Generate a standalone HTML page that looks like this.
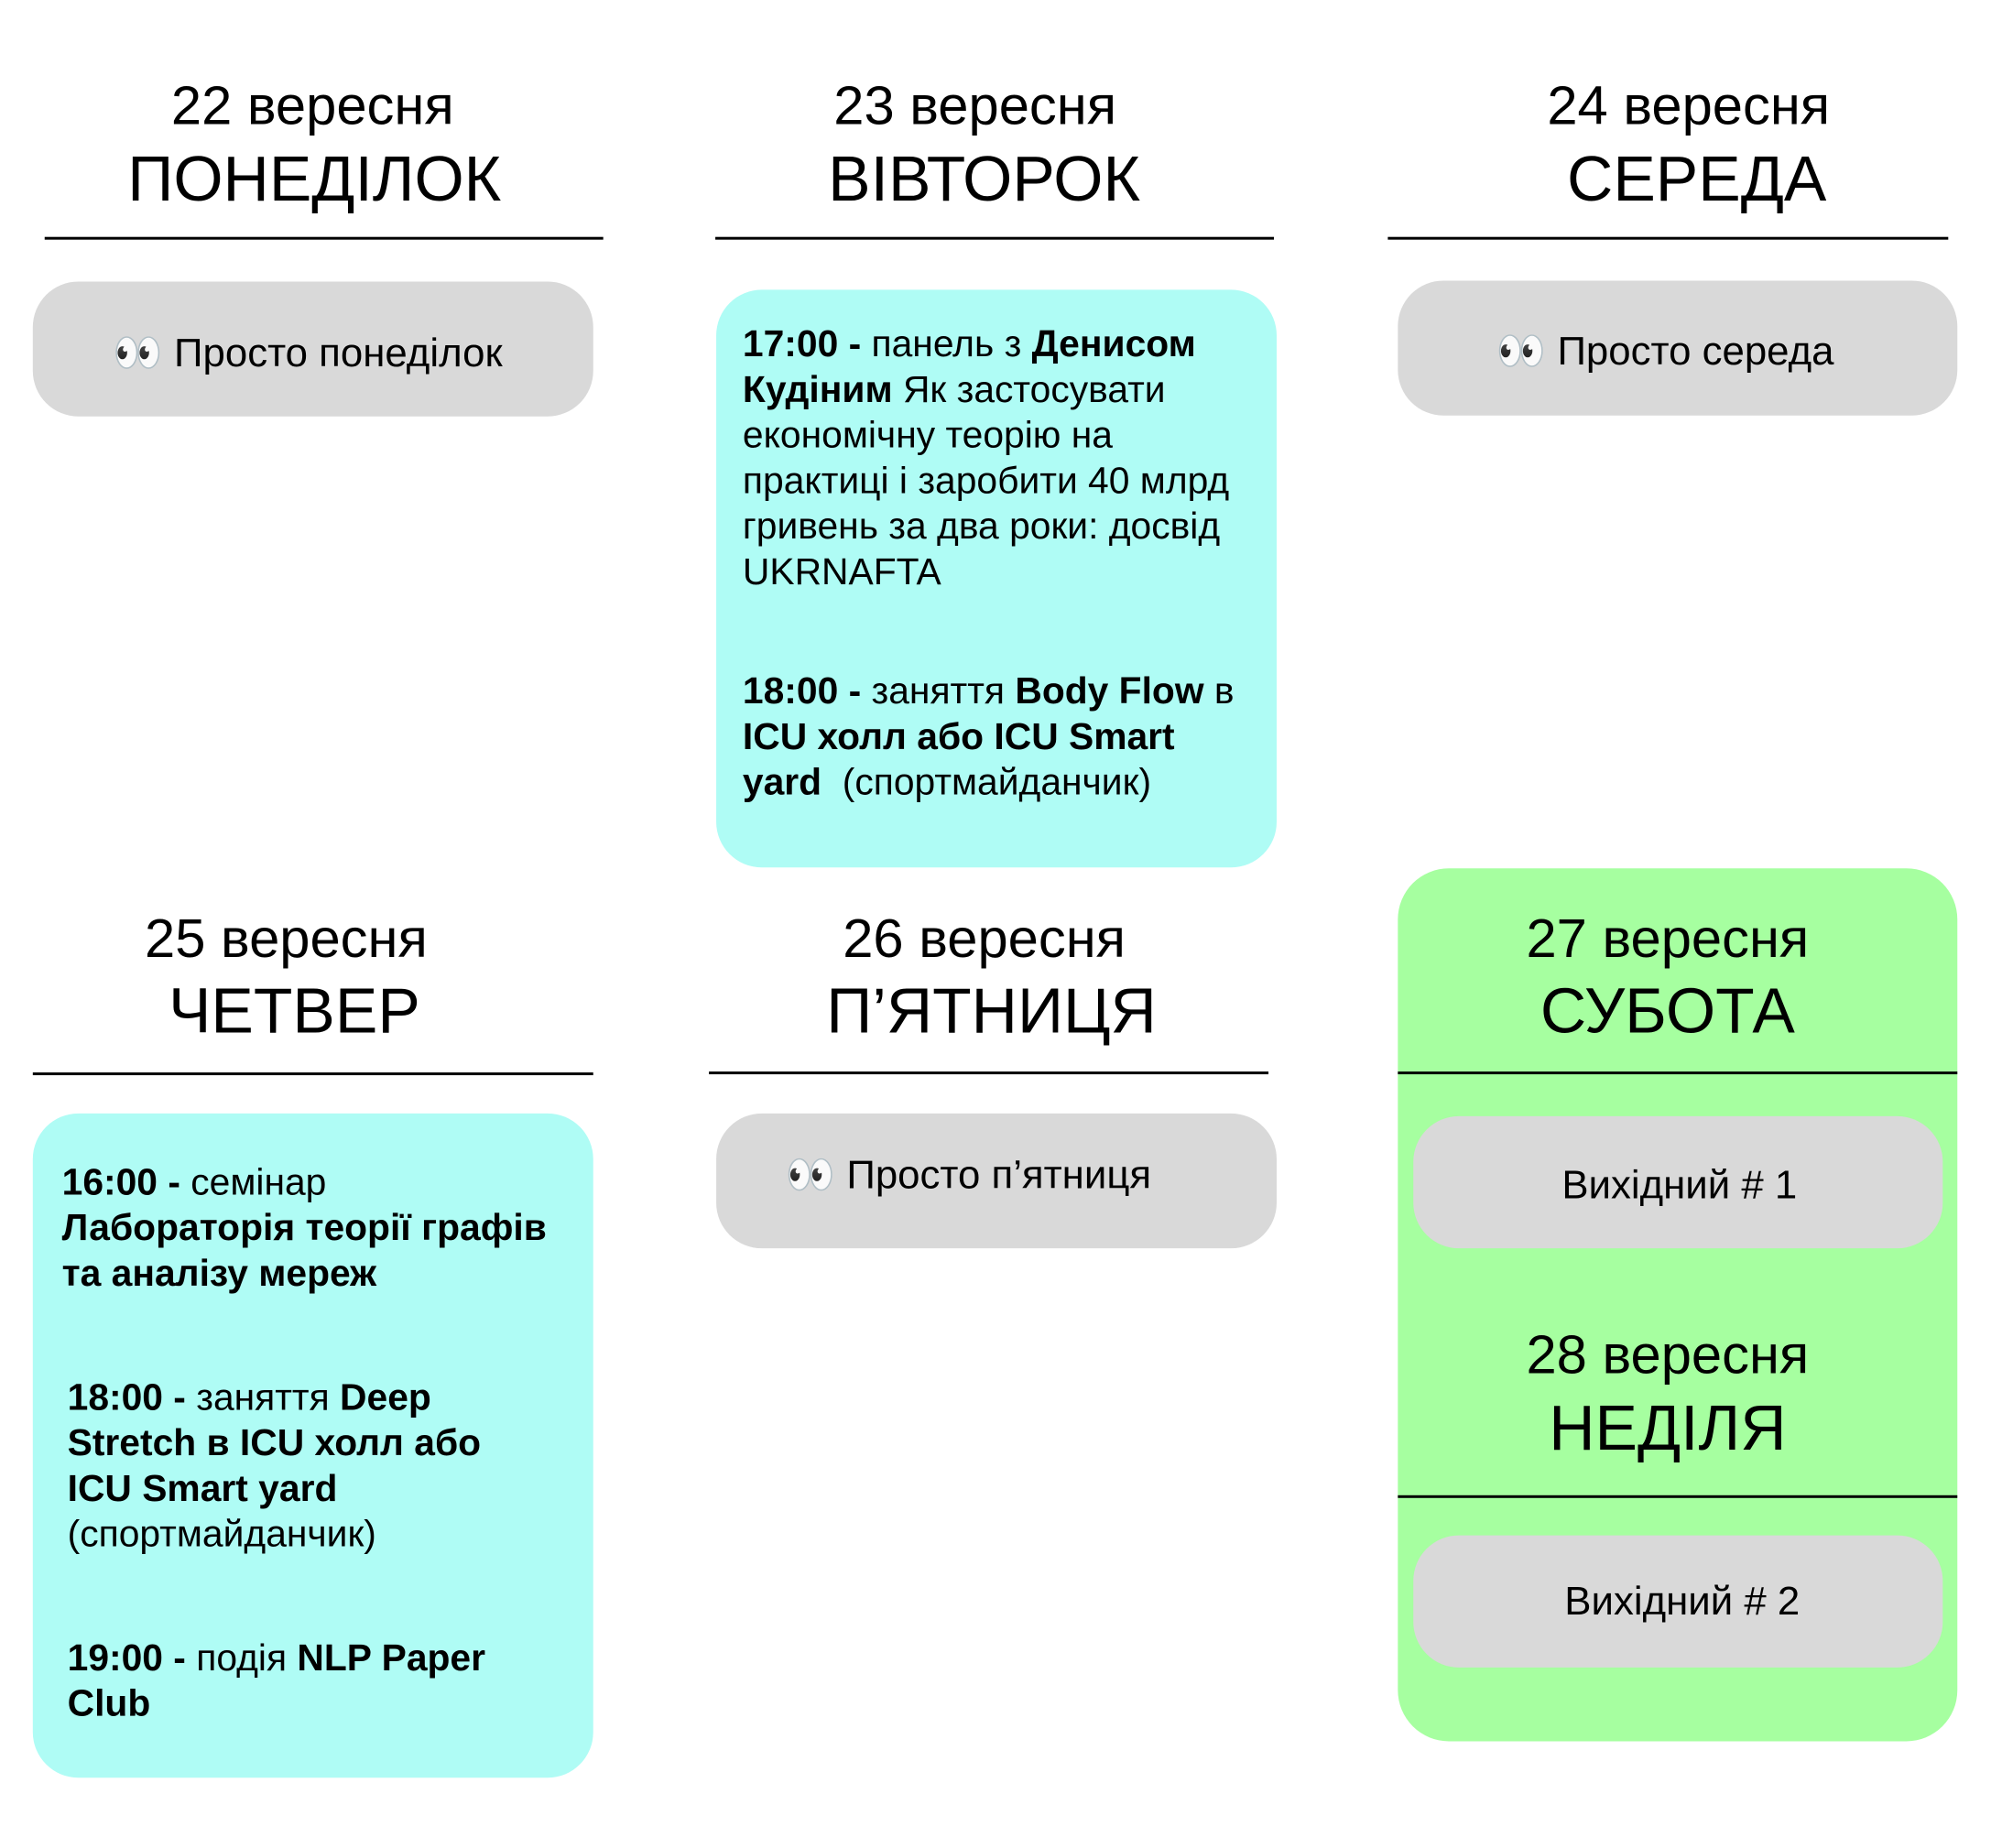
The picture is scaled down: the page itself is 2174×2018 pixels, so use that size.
<!DOCTYPE html>
<html><head><meta charset="utf-8"><style>
body{margin:0;width:2174px;height:2018px;background:#fff;position:relative;overflow:hidden;font-family:"Liberation Sans","DejaVu Sans",sans-serif;color:#000}
#w{position:absolute;left:0;top:0;width:2174px;height:2018px;transform:scale(0.995);transform-origin:0 0}
.a{position:absolute}
.t{position:absolute;white-space:nowrap;line-height:1}
.c{transform:translateX(-50%)}
.line{position:absolute;height:3px;background:#000}
.gray{position:absolute;background:#d9d9d9;border-radius:50px}
.cyan{position:absolute;background:#affcf5;border-radius:50px}
.green{position:absolute;background:#a6ffa0;border-radius:56px}
.d{font-size:60px}
.w{font-size:70px}
.b{font-size:41px}
.g{font-size:44px}
b{font-weight:bold}
</style></head><body><div id="w">
<div class="t c d" style="left:343px;top:86px">22 вересня</div>
<div class="t c w" style="left:345px;top:161px">ПОНЕДІЛОК</div>
<div class="line" style="left:49px;width:613px;top:260px"></div>

<div class="t c d" style="left:1070px;top:86px">23 вересня</div>
<div class="t c w" style="left:1080px;top:161px">ВІВТОРОК</div>
<div class="line" style="left:785px;width:613px;top:260px"></div>

<div class="t c d" style="left:1853px;top:86px">24 вересня</div>
<div class="t c w" style="left:1862px;top:161px">СЕРЕДА</div>
<div class="line" style="left:1523px;width:615px;top:260px"></div>

<div class="gray" style="left:36px;top:309px;width:615px;height:148px"></div>
<div class="t g" style="left:124px;top:366px">👀 Просто понеділок</div>

<div class="cyan" style="left:786px;top:318px;width:615px;height:634px"></div>
<div class="a b" style="left:815px;top:352px;line-height:50px;white-space:nowrap">
<b>17:00 -</b> панель з <b>Денисом</b><br><b>Кудіним</b> Як застосувати<br>економічну теорію на<br>практиці і заробити 40 млрд<br>гривень за два роки: досвід<br>UKRNAFTA</div>
<div class="a b" style="left:815px;top:733px;line-height:50px;white-space:nowrap">
<b>18:00 -</b> заняття <b>Body Flow</b> в<br><b>ICU холл або ICU Smart</b><br><b>yard</b>&nbsp; (спортмайданчик)</div>

<div class="gray" style="left:1534px;top:308px;width:614px;height:148px"></div>
<div class="t g" style="left:1642px;top:364px">👀 Просто середа</div>

<div class="t c d" style="left:314px;top:1000px">25 вересня</div>
<div class="t c w" style="left:323px;top:1074px">ЧЕТВЕР</div>
<div class="line" style="left:36px;width:615px;top:1177px"></div>

<div class="t c d" style="left:1080px;top:1000px">26 вересня</div>
<div class="t c w" style="left:1088px;top:1074px">П’ЯТНИЦЯ</div>
<div class="line" style="left:778px;width:614px;top:1176px"></div>

<div class="cyan" style="left:36px;top:1222px;width:615px;height:729px"></div>
<div class="a b" style="left:68px;top:1272px;line-height:50px;white-space:nowrap">
<b>16:00 -</b> семінар<br><b>Лабораторія теорії графів</b><br><b>та аналізу мереж</b></div>
<div class="a b" style="left:74px;top:1508px;line-height:50px;white-space:nowrap">
<b>18:00 -</b> заняття <b>Deep</b><br><b>Stretch в ICU холл або</b><br><b>ICU Smart yard</b><br>(спортмайданчик)</div>
<div class="a b" style="left:74px;top:1794px;line-height:50px;white-space:nowrap">
<b>19:00 -</b> подія <b>NLP Paper</b><br><b>Club</b></div>

<div class="gray" style="left:786px;top:1222px;width:615px;height:148px"></div>
<div class="t g" style="left:862px;top:1268px">👀 Просто п’ятниця</div>

<div class="green" style="left:1534px;top:953px;width:614px;height:958px"></div>
<div class="t c d" style="left:1830px;top:1000px">27 вересня</div>
<div class="t c w" style="left:1830px;top:1074px">СУБОТА</div>
<div class="line" style="left:1534px;width:614px;top:1176px"></div>
<div class="gray" style="left:1551px;top:1225px;width:581px;height:145px"></div>
<div class="t c g" style="left:1843px;top:1279px">Вихідний # 1</div>
<div class="t c d" style="left:1830px;top:1457px">28 вересня</div>
<div class="t c w" style="left:1830px;top:1532px">НЕДІЛЯ</div>
<div class="line" style="left:1534px;width:614px;top:1641px"></div>
<div class="gray" style="left:1551px;top:1685px;width:581px;height:145px"></div>
<div class="t c g" style="left:1846px;top:1736px">Вихідний # 2</div>
</div></body></html>
